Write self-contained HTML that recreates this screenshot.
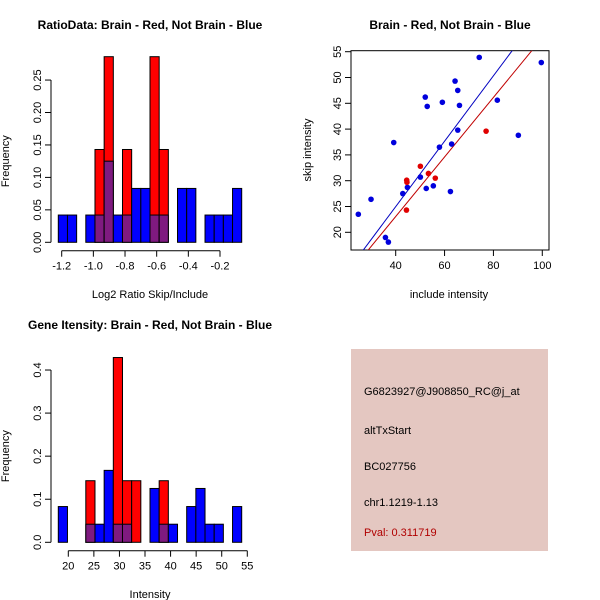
<!DOCTYPE html>
<html><head><meta charset="utf-8"><style>
body{margin:0;background:#fff;}
svg{display:block;font-family:"Liberation Sans",sans-serif;}
</style></head><body>
<svg id="c" width="600" height="600" xmlns="http://www.w3.org/2000/svg">
<rect x="0" y="0" width="600" height="600" fill="#fff"/>
<g id="p1"></g>
<g id="p2"></g>
<g id="p3"></g>
<g>
<rect x="351" y="349" width="197" height="202" fill="#e4c7c1"/>
<text x="364" y="395" font-size="11" fill="#000">G6823927@J908850_RC@j_at</text>
<text x="364" y="434" font-size="11" fill="#000">altTxStart</text>
<text x="364" y="470" font-size="11" fill="#000">BC027756</text>
<text x="364" y="506" font-size="11" fill="#000">chr1.1219-1.13</text>
<text x="364" y="536" font-size="11" fill="#b00000">Pval: 0.311719</text>
</g>
</svg>
<script>
// ---- Plot 1 data ----
const ratioRedFreq = [0,0,0,0,0.143,0.286,0,0.143,0,0,0.286,0.143,0,0,0,0,0,0,0,0];
const ratioBlueFreq = [0.042,0.042,0,0.042,0.042,0.125,0.042,0.042,0.083,0.083,0.042,0.042,0,0.083,0.083,0,0.042,0.042,0.042,0.083];
const ratioXTicks = [-1.2,-1.0,-0.8,-0.6,-0.4,-0.2];
const ratioYTicks = [0,0.05,0.10,0.15,0.20,0.25];
// ---- Plot 2 data ----
const blueInclude = [24.7,29.9,35.8,37.0,39.2,42.9,44.8,50.1,52.1,52.9,52.5,55.4,57.9,59.1,62.4,62.9,64.3,65.4,65.4,66.1,74.2,81.6,90.2,99.6];
const blueSkip = [23.5,26.4,19.0,18.1,37.4,27.5,28.7,30.7,46.2,44.4,28.5,29.0,36.5,45.2,27.9,37.1,49.3,47.5,39.8,44.6,53.9,45.6,38.8,52.9];
const redInclude = [44.5,44.6,44.4,50.1,53.4,56.2,77.0];
const redSkip = [30.1,29.7,24.3,32.8,31.4,30.5,39.6];
const blueFit = [-0.39,0.634];
const redFit = [-0.02,0.577];
const scatXTicks = [40,60,80,100];
const scatYTicks = [20,25,30,35,40,45,50,55];
// ---- Plot 3 data ----
const intRedFreq = [0,0,0,0.143,0,0,0.429,0.143,0.143,0,0,0.143,0,0,0,0,0,0,0,0];
const intBlueFreq = [0.083,0,0,0.042,0.042,0.167,0.042,0.042,0,0,0.125,0.042,0.042,0,0.083,0.125,0.042,0.042,0,0.083];
const intXTicks = [20,25,30,35,40,45,50,55];
const intYTicks = [0,0.1,0.2,0.3,0.4];

const NS="http://www.w3.org/2000/svg";
function mk(parent,tag,attrs,text){const e=document.createElementNS(NS,tag);for(const k in attrs)e.setAttribute(k,attrs[k]);if(text!==undefined)e.textContent=text;parent.appendChild(e);return e;}

function hist(g,o){
  const X=v=>o.x0+(v-o.v0)*o.sx, Y=v=>o.y0-v*o.sy;
  const n=o.red.length;
  for(let i=0;i<n;i++){
    const xa=o.bx0+i*o.bw, r=o.red[i], b=o.blue[i];
    if(r>0){const e=mk(g,'rect',{x:xa,y:Y(r),width:o.bw,height:Y(0)-Y(r),fill:'#ff0000',stroke:'#000','stroke-width':1});
      
      }
    if(b>0&&r<=0){const e=mk(g,'rect',{x:xa,y:Y(b),width:o.bw,height:Y(0)-Y(b),fill:'#0000ff',stroke:'#000','stroke-width':1});
      
      }
    if(b>0&&r>0){
      if(b>r){const e=mk(g,'rect',{x:xa,y:Y(b),width:o.bw,height:Y(r)-Y(b),fill:'#0000ff',stroke:'#000','stroke-width':1});
        
        }
      const m=Math.min(r,b);
      const e=mk(g,'rect',{x:xa,y:Y(m),width:o.bw,height:Y(0)-Y(m),fill:'#7f1a80',stroke:'#000','stroke-width':1});
      
      }
  }
  const ya=o.yaxX;
  mk(g,'line',{x1:ya,x2:ya,y1:Y(o.yt[0]),y2:Y(o.yt[o.yt.length-1]),stroke:'#000'});
  o.yt.forEach(t=>{mk(g,'line',{x1:ya-6,x2:ya,y1:Y(t),y2:Y(t),stroke:'#000'});
    const e=mk(g,'text',{x:ya-10,y:Y(t),'font-size':11,'text-anchor':'middle',transform:`rotate(-90 ${ya-10} ${Y(t)})`},o.yfmt(t));
    
    });
  const xa=o.xaxY;
  mk(g,'line',{x1:X(o.xt[0]),x2:X(o.xt[o.xt.length-1]),y1:xa,y2:xa,stroke:'#000'});
  o.xt.forEach(t=>{mk(g,'line',{x1:X(t),x2:X(t),y1:xa,y2:xa+6,stroke:'#000'});
    const e=mk(g,'text',{x:X(t),y:xa+19,'font-size':11,'text-anchor':'middle'},o.xfmt(t));
    
    });
  let e=mk(g,'text',{x:150,y:o.titleY,'font-size':12,'font-weight':'bold','text-anchor':'middle'},o.title);
  
  
  e=mk(g,'text',{x:150,y:o.xlabY,'font-size':11,'text-anchor':'middle'},o.xlab);
  
  
  const cy=(o.y0+Y(o.yt[o.yt.length-1]))/2;
  e=mk(g,'text',{x:9,y:cy,'font-size':11,'text-anchor':'middle',transform:`rotate(-90 9 ${cy})`},'Frequency');
  
  
}

hist(document.getElementById('p1'),{red:ratioRedFreq,blue:ratioBlueFreq,bx0:58.3,bw:9.17,
  x0:61.7,v0:-1.2,sx:158.3,y0:242.3,sy:649,yaxX:51,xaxY:250.7,xt:ratioXTicks,yt:ratioYTicks,
  xfmt:t=>t.toFixed(1),yfmt:t=>t.toFixed(2),title:'RatioData: Brain - Red, Not Brain - Blue',titleY:29,xlab:'Log2 Ratio Skip/Include',xlabY:298});
hist(document.getElementById('p3'),{red:intRedFreq,blue:intBlueFreq,bx0:58.3,bw:9.17,
  x0:68.3,v0:20,sx:5.114,y0:542.3,sy:430.7,yaxX:51,xaxY:550.7,xt:intXTicks,yt:intYTicks,
  xfmt:t=>String(t),yfmt:t=>t.toFixed(1),title:'Gene Itensity: Brain - Red, Not Brain - Blue',titleY:329,xlab:'Intensity',xlabY:598});

(function(){
  const g=document.getElementById('p2');
  const L=351,R=549,T=50.7,B=250;
  const X=v=>395.7+(v-40)*2.443, Y=v=>51.7+(55-v)*5.16;
  mk(g,'defs',{}).innerHTML='<clipPath id="clp"><rect x="351" y="50.7" width="198" height="199.3"/></clipPath>';
  let e=mk(g,'rect',{x:L,y:T,width:R-L,height:B-T,fill:'none',stroke:'#000'});
  
  
  [[blueFit,'#0000c0','blue-fit-line'],[redFit,'#c00000','red-fit-line']].forEach(([f,c,n])=>{
    const xa=0,xb=120;
    const l=mk(g,'line',{x1:X(xa),y1:Y(f[0]+f[1]*xa),x2:X(xb),y2:Y(f[0]+f[1]*xb),stroke:c,'clip-path':'url(#clp)'});
    
    
  });
  blueInclude.forEach((v,i)=>{const p=mk(g,'circle',{cx:X(v),cy:Y(blueSkip[i]),r:2.8,fill:'#0000dd'});
    
    });
  redInclude.forEach((v,i)=>{const p=mk(g,'circle',{cx:X(v),cy:Y(redSkip[i]),r:2.8,fill:'#e00000'});
    
    });
  scatXTicks.forEach(t=>{mk(g,'line',{x1:X(t),x2:X(t),y1:B,y2:B+6,stroke:'#000'});
    const q=mk(g,'text',{x:X(t),y:B+19,'font-size':11,'text-anchor':'middle'},String(t));
    
    });
  scatYTicks.forEach(t=>{mk(g,'line',{x1:L-6,x2:L,y1:Y(t),y2:Y(t),stroke:'#000'});
    const q=mk(g,'text',{x:L-10,y:Y(t),'font-size':11,'text-anchor':'middle',transform:`rotate(-90 ${L-10} ${Y(t)})`},String(t));
    
    });
  e=mk(g,'text',{x:450,y:29,'font-size':12,'font-weight':'bold','text-anchor':'middle'},'Brain - Red, Not Brain - Blue');
  
  
  e=mk(g,'text',{x:449,y:298,'font-size':11,'text-anchor':'middle'},'include intensity');
  
  
  e=mk(g,'text',{x:311,y:150,'font-size':11,'text-anchor':'middle',transform:'rotate(-90 311 150)'},'skip intensity');
  
  
})();
</script>
</body></html>
